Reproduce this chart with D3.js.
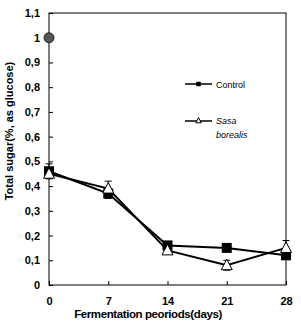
<!DOCTYPE html>
<html>
<head>
<meta charset="utf-8">
<script src="https://cdn.jsdelivr.net/npm/d3@7"></script>
<style>
  body { margin: 0; background: #fff; }
  svg { display: block; font-family: "Liberation Sans", Arial, sans-serif; }
</style>
</head>
<body>
<div id="chart"></div>
<script>
// data
const days = [0, 7, 14, 21, 28];
const controlValues = [0.46, 0.37, 0.16, 0.15, 0.12];
const controlErr = [0.03, 0.02, 0.01, 0.01, 0.01];
const sasaValues = [0.45, 0.39, 0.14, 0.08, 0.15];
const sasaErr = [0.02, 0.03, 0.01, 0.02, 0.03];
const initialValue = [{ day: 0, value: 1.0 }];
const yTicks = [0, 0.1, 0.2, 0.3, 0.4, 0.5, 0.6, 0.7, 0.8, 0.9, 1, 1.1];

const width = 301, height = 325;
const margin = { left: 49, right: 15, top: 13, bottom: 40 };

const svg = d3.select("#chart").append("svg")
    .attr("width", width)
    .attr("height", height);

const x = d3.scaleLinear().domain([0, 28]).range([margin.left, width - margin.right]);
const y = d3.scaleLinear().domain([0, 1.1]).range([height - margin.bottom, margin.top]);

const fmt = d => d3.format(".1~f")(d).replace(".", ",");

//frame
svg.append("rect")
    .attr("x", x(0)).attr("y", y(1.1))
    .attr("width", x(28) - x(0)).attr("height", y(0) - y(1.1))
    .attr("fill", "none").attr("stroke", "#000").attr("stroke-width", 1);

//axes
const yAxis = svg.append("g")
    .attr("transform", `translate(${x(0)},0)`)
    .call(d3.axisLeft(y).tickValues(yTicks).tickFormat(fmt).tickSizeInner(-4).tickSizeOuter(0).tickPadding(9));
yAxis.select(".domain").remove();
yAxis.selectAll("text").attr("font-size", 11).attr("font-weight", "bold").attr("fill", "#000");

const xAxis = svg.append("g")
    .attr("transform", `translate(0,${y(0)})`)
    .call(d3.axisBottom(x).tickValues(days).tickSizeInner(-4).tickSizeOuter(0).tickPadding(12));
xAxis.select(".domain").remove();
xAxis.selectAll("text").attr("font-size", 11).attr("font-weight", "bold").attr("fill", "#000");

//titles
svg.append("text")
    .attr("x", 148).attr("y", 318)
    .attr("text-anchor", "middle")
    .attr("font-size", 11.5).attr("font-weight", "bold")
    .attr("letter-spacing", -0.4)
    .text("Fermentation peoriods(days)");

svg.append("text")
    .attr("transform", `translate(13,131) rotate(-90)`)
    .attr("text-anchor", "middle")
    .attr("font-size", 11).attr("font-weight", "bold")
    .text("Total sugar(%, as glucose)");

const line = d3.line().x((d, i) => x(days[i])).y(d => y(d));

function drawSeries(values, errs, marker) {
    const g = svg.append("g");
    g.append("path")
        .datum(values)
        .attr("d", line)
        .attr("fill", "none").attr("stroke", "#000").attr("stroke-width", 2);
    values.forEach((v, i) => {
        const cx = x(days[i]);
        g.append("line")
            .attr("x1", cx).attr("x2", cx)
            .attr("y1", y(v - errs[i])).attr("y2", y(v + errs[i]))
            .attr("stroke", "#000").attr("stroke-width", 1);
        [v - errs[i], v + errs[i]].forEach(e => {
            g.append("line")
                .attr("x1", cx - 3.5).attr("x2", cx + 3.5)
                .attr("y1", y(e)).attr("y2", y(e))
                .attr("stroke", "#000").attr("stroke-width", 1);
        });
    });
    values.forEach((v, i) => marker(g, x(days[i]), y(v), 1));
}

const square = (g, cx, cy, s) => g.append("rect")
    .attr("x", cx - 5 * s).attr("y", cy - 5 * s)
    .attr("width", 10 * s).attr("height", 10 * s)
    .attr("fill", "#000");

const triangle = (g, cx, cy, s) => g.append("path")
    .attr("d", `M${cx},${cy - 6 * s}L${cx + 5.5 * s},${cy + 4.5 * s}L${cx - 5.5 * s},${cy + 4.5 * s}Z`)
    .attr("fill", "#fff").attr("stroke", "#000").attr("stroke-width", 1);

drawSeries(controlValues, controlErr, square);
drawSeries(sasaValues, sasaErr, triangle);

//initial glucose point
svg.selectAll("circle.init").data(initialValue)
    .join("circle")
    .attr("class", "init")
    .attr("cx", d => x(d.day)).attr("cy", d => y(d.value))
    .attr("r", 5)
    .attr("fill", "#555").attr("stroke", "#222").attr("stroke-width", 1);

//legend
const legend = svg.append("g");
legend.append("line").attr("x1", 185).attr("x2", 212).attr("y1", 84).attr("y2", 84)
    .attr("stroke", "#000").attr("stroke-width", 1.5);
square(legend, 198.5, 84, 0.45);
legend.append("text").attr("x", 216).attr("y", 87.5)
    .attr("font-size", 9).text("Control");

legend.append("line").attr("x1", 185).attr("x2", 212).attr("y1", 121).attr("y2", 121)
    .attr("stroke", "#000").attr("stroke-width", 1.5);
triangle(legend, 198.5, 120.5, 0.5);
legend.append("text").attr("x", 216).attr("y", 124)
    .attr("font-size", 9).attr("font-style", "italic").text("Sasa");
legend.append("text").attr("x", 216).attr("y", 138)
    .attr("font-size", 9).attr("font-style", "italic").text("borealis");
</script>
</body>
</html>
